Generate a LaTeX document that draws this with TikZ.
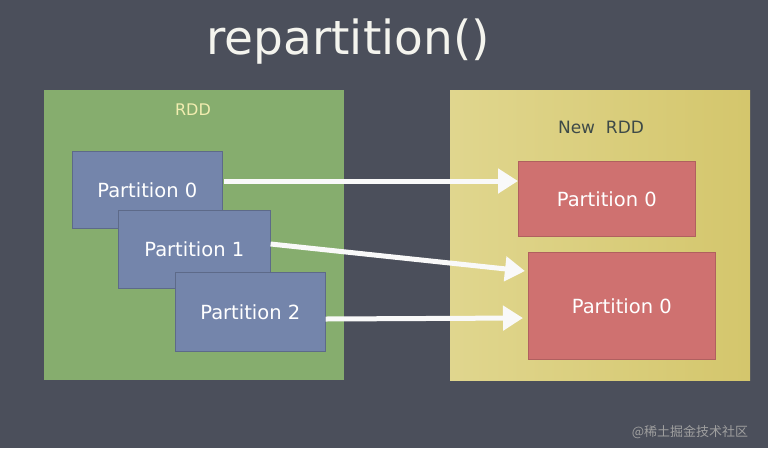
\documentclass[tikz,border=0pt]{standalone}
\usepackage{fontspec}
\setmainfont{DejaVu Sans}
\newfontfamily\cjk{Noto Sans CJK SC}
\usetikzlibrary{arrows.meta}
\definecolor{bg}{HTML}{4B4F5B}
\definecolor{rddgreen}{HTML}{86AD6E}
\definecolor{partblue}{HTML}{7485AB}
\definecolor{newyellow}{HTML}{D4C66C}
\definecolor{newyellowlight}{HTML}{E0D68E}
\definecolor{partred}{HTML}{CF7170}
\definecolor{titlewhite}{HTML}{F4F4EE}
\definecolor{rddtext}{HTML}{F2EDB0}
\definecolor{newtext}{HTML}{3E4A48}
\tikzset{
  x=1pt, y=-1pt,
  container/.style={draw=none, anchor=north west, inner sep=0pt},
  bluepart/.style={fill=partblue, draw=partblue!80!black, line width=0.6pt, anchor=north west, inner sep=0pt},
  redpart/.style={fill=partred, draw=partred!85!black, line width=0.6pt, anchor=north west, inner sep=0pt},
  lbl/.style={text=white, font=\fontsize{19.5}{22}\selectfont},
  flow/.style={draw=white!95!gray, line width=5pt, -{Triangle[length=20pt,width=24pt]}, shorten >=0pt}
}
\begin{document}
\begin{tikzpicture}
\fill[bg] (0,0) rectangle (768,448);
\useasboundingbox (0,0) rectangle (768,448);
% title
\node[text=titlewhite, font=\fontsize{47}{52}\selectfont] (title) at (348,42) {repartition()};
% RDD container
\node[container, fill=rddgreen, minimum width=300pt, minimum height=290pt] (rdd) at (44,90) {};
\node[text=rddtext, font=\fontsize{16}{18}\selectfont] (rddlbl) at (193,110) {RDD};
% new RDD container
\node[container, left color=newyellowlight, right color=newyellow, minimum width=300pt, minimum height=290pt] (nrdd) at (450,90) {};
\node[text=newtext, font=\fontsize{17}{19}\selectfont] (nrddlbl) at (601,127) {New\ \ RDD};
% source partitions
\node[bluepart, minimum width=150pt, minimum height=77pt] (p0) at (72,151) {};
\node[lbl] at (p0.center) {Partition 0};
\node[bluepart, minimum width=152pt, minimum height=78pt] (p1) at (118,210) {};
\node[lbl] at (p1.center) {Partition 1};
\node[bluepart, minimum width=150pt, minimum height=79pt] (p2) at (175,272) {};
\node[lbl] at (p2.center) {Partition 2};
% new partitions
\node[redpart, minimum width=177pt, minimum height=75pt] (n0) at (518,161) {};
\node[lbl] at (n0.center) {Partition 0};
\node[redpart, minimum width=187pt, minimum height=107pt] (n1) at (528,252) {};
\node[lbl] at (n1.center) {Partition 0};
% arrows
\draw[flow] (224,181) -- (n0.west |- 0,181);
\draw[flow] (p1.east |- 0,244) -- (525,271);
\draw[flow] (p2.east |- 0,319) -- (523,318);
% watermark
\node[text=gray!75, font=\cjk\fontsize{13}{15}\selectfont] (wm) at (690,432) {@稀土掘金技术社区};
\end{tikzpicture}
\end{document}
